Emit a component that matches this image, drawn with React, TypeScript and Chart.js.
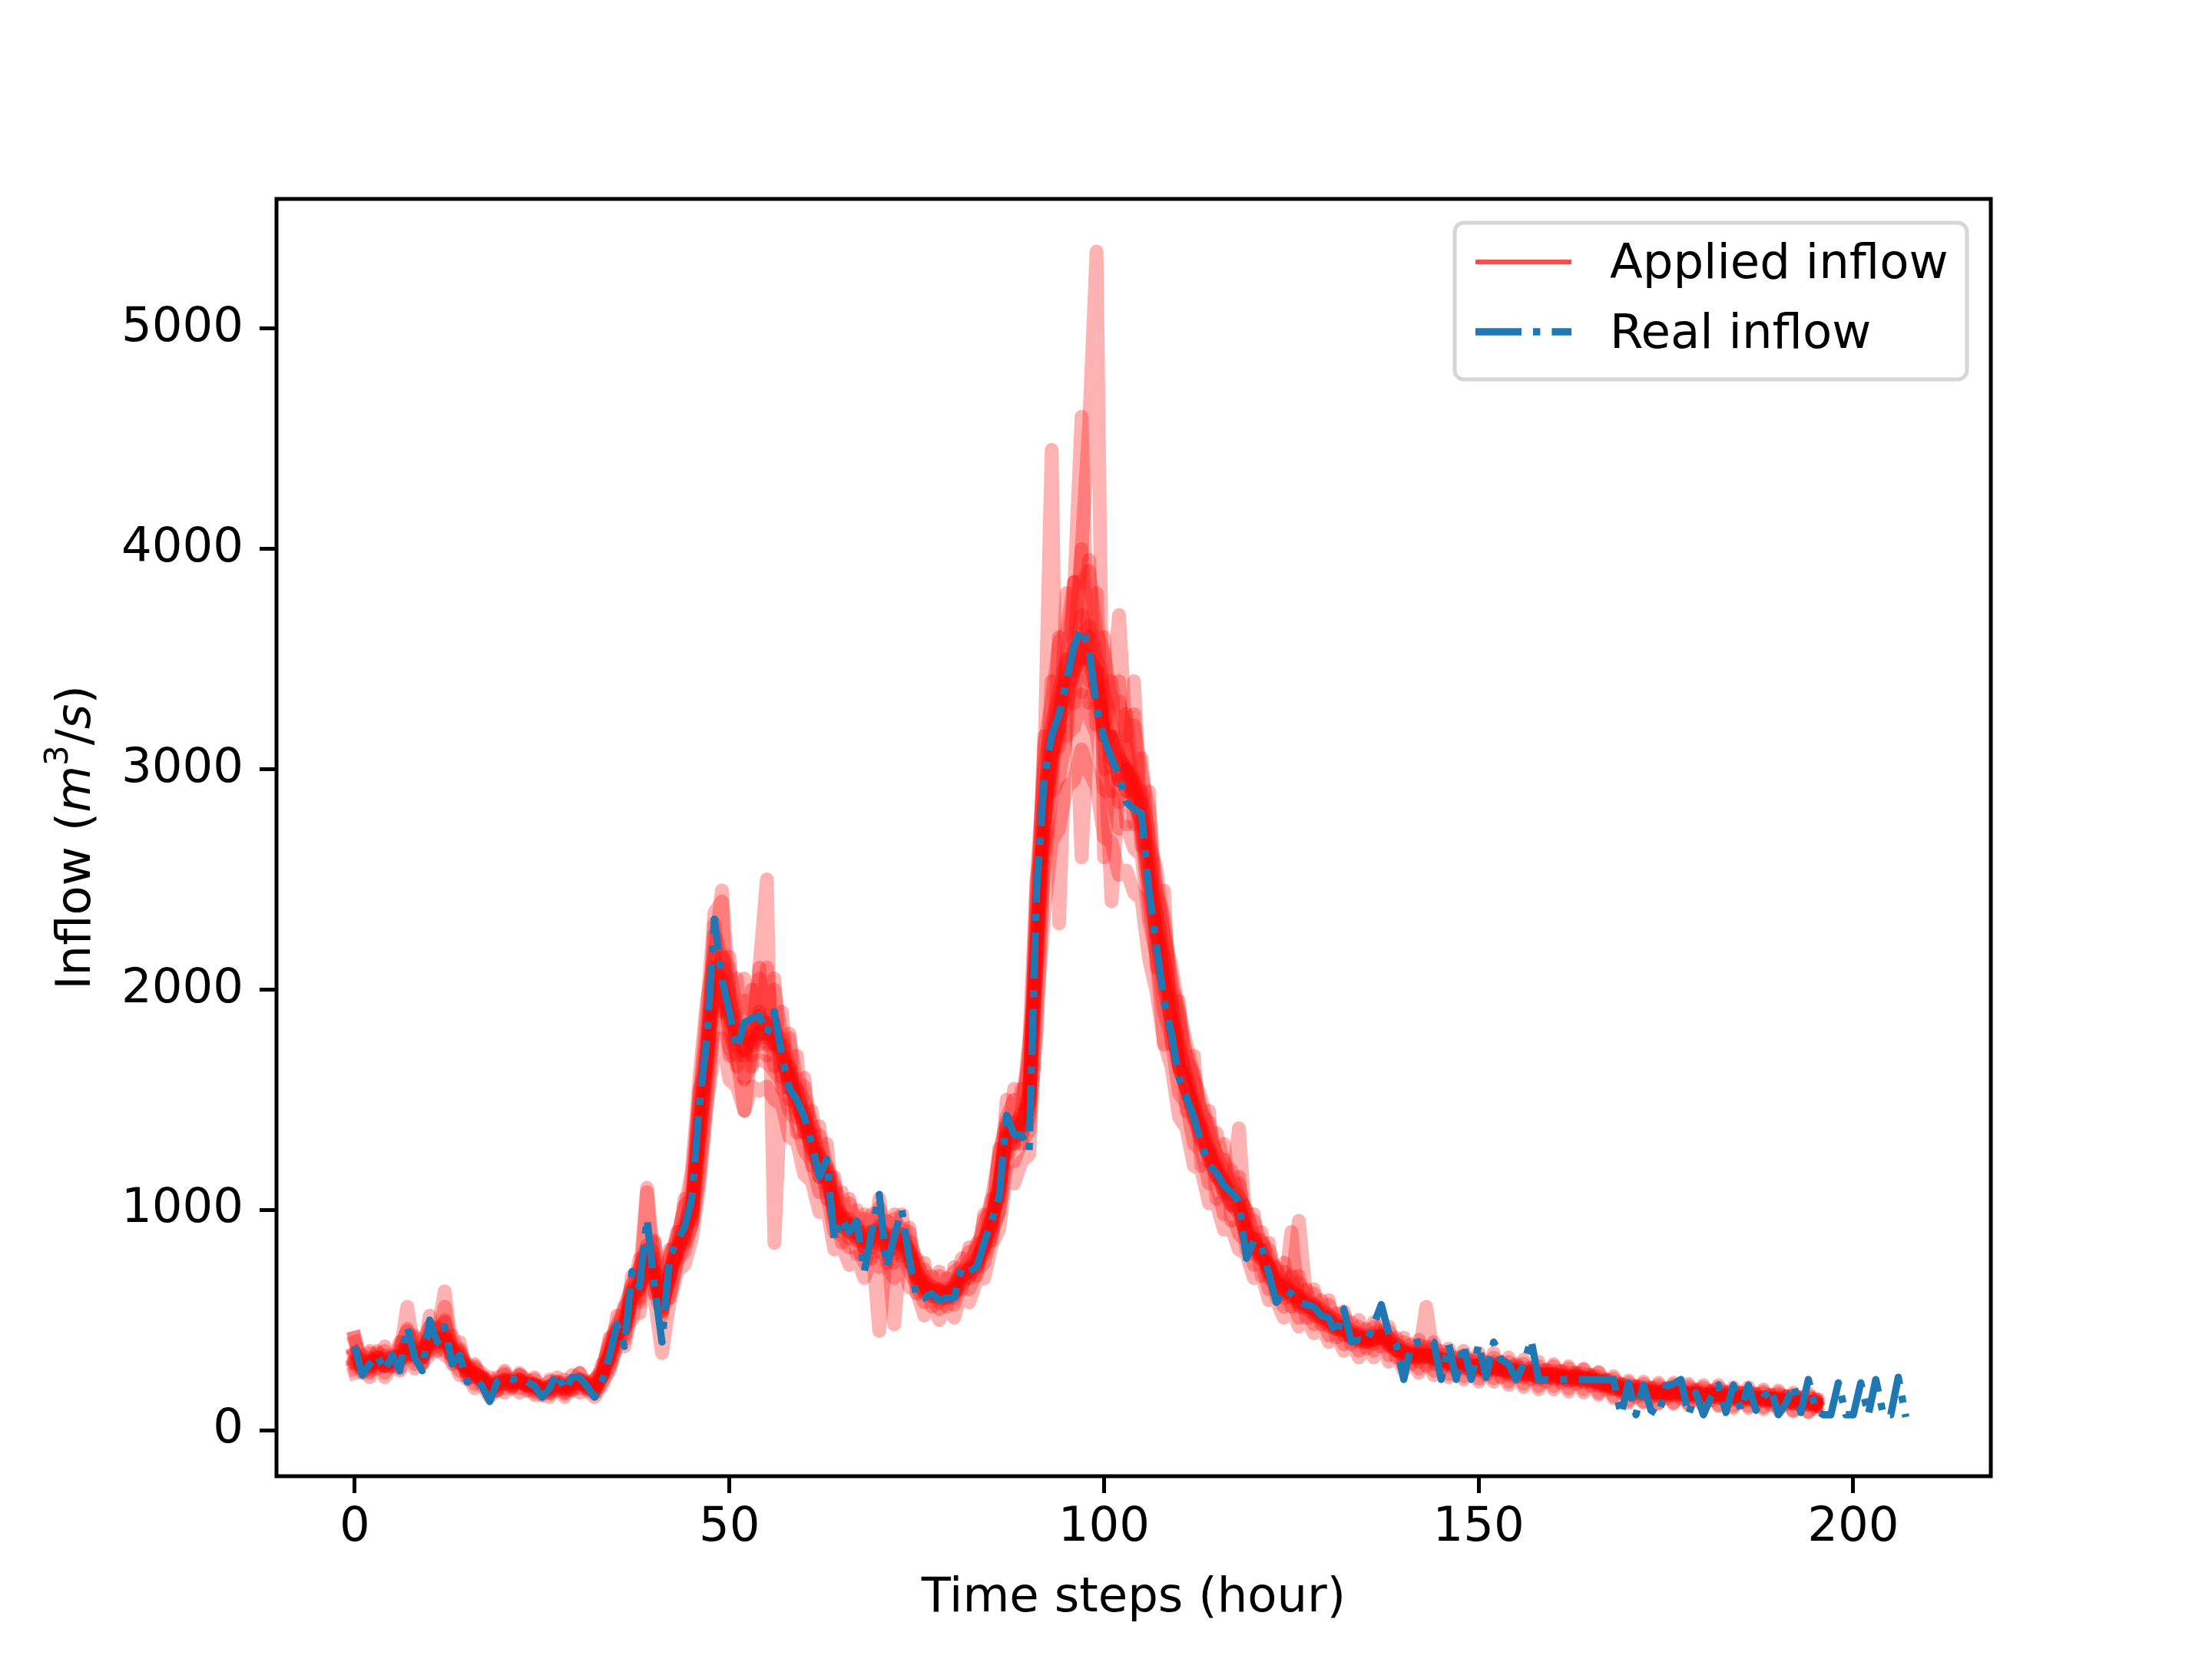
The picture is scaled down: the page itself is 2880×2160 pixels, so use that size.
import { useEffect, useRef } from "react";
import { Chart, registerables } from "chart.js";

Chart.register(...registerables);

const FONT = '"DejaVu Sans"';
const FS = 62.5;

const xTicks = [0, 50, 100, 150, 200];
const yTicks = [0, 1000, 2000, 3000, 4000, 5000];
const X_MIN = -10.45;
const X_MAX = 218.35;
const Y_MIN = -209;
const Y_MAX = 5589;

// observed inflow, one value per hour
const realInflow = [
  380, 250, 300, 340, 270, 340, 270, 470, 330, 270,
  500, 400, 470, 300, 340, 220, 240, 200, 130, 220,
  240, 230, 240, 220, 200, 150, 190, 260, 180, 240,
  240, 200, 150, 220, 340, 480, 380, 720, 650, 960,
  650, 400, 780, 860, 920, 1050, 1480, 1780, 2320, 2050,
  1900, 1730, 1850, 1870, 1880, 1800, 1900, 1700, 1550, 1500,
  1420, 1300, 1150, 1230, 860, 960, 900, 950, 720, 900,
  1070, 740, 880, 1000, 780, 600, 600, 620, 590, 600,
  600, 740, 720, 740, 850, 950, 1060, 1430, 1340, 1340,
  1270, 2450, 2950, 3150, 3250, 3400, 3560, 3640, 3550, 3280,
  3140, 3050, 2970, 2850, 2820, 2800, 2450, 2200, 1950, 1800,
  1600, 1510, 1420, 1300, 1200, 1170, 1110, 1080, 1040, 780,
  860, 840, 710, 580, 640, 620, 580, 570, 560, 520,
  510, 430, 550, 400, 410, 400, 480, 570, 440, 390,
  230, 390, 400, 410, 400, 230, 390, 230, 390, 230,
  390, 240, 400, 320, 300, 230, 300, 410, 230, 230,
  230, 230, 230, 230, 230, 230, 230, 230, 230, 70,
  215, 70, 205, 90, 70, 200, 210, 230, 70, 170,
  70, 150, 205, 80, 205, 90, 205, 90, 150, 190,
  70, 120, 205, 80, 230, 90, 70, 70, 215, 70,
  70, 215, 70, 230, 70, 70, 240, 60
];

// applied (ensemble) inflows
const applied1 = [
  400, 300, 350, 320, 360, 330, 380, 450, 350, 400,
  470, 420, 490, 360, 370, 280, 290, 240, 220, 220,
  260, 220, 250, 220, 230, 190, 220, 220, 210, 220,
  260, 210, 230, 270, 390, 470, 530, 660, 730, 840,
  800, 580, 800, 860, 1020, 1050, 1500, 1800, 2250, 2150,
  2100, 1900, 1950, 1900, 2050, 1900, 2000, 1780, 1780, 1580,
  1560, 1360, 1340, 1200, 1120, 990, 1030, 940, 960, 920,
  1010, 890, 960, 910, 900, 730, 730, 650, 700, 650,
  720, 740, 810, 800, 960, 990, 1240, 1420, 1500, 1480,
  1680, 2330, 3100, 3300, 3580, 3620, 3850, 3850, 3900, 3620,
  3530, 3300, 3310, 3150, 3200, 2980, 2820, 2440, 2330, 2010,
  1900, 1680, 1620, 1430, 1400, 1240, 1230, 1100, 1120, 950,
  950, 840, 820, 690, 720, 650, 670, 600, 620, 540,
  570, 490, 520, 450, 470, 420, 470, 440, 450, 390,
  400, 360, 390, 360, 380, 340, 350, 310, 340, 300,
  330, 290, 330, 290, 310, 280, 300, 270, 290, 260,
  290, 255, 280, 250, 275, 240, 260, 215, 235, 195,
  215, 185, 210, 175, 205, 175, 205, 175, 200, 170,
  195, 165, 195, 160, 180, 150, 180, 145, 175, 140,
  170, 140, 160, 130, 155, 120
];
const applied2 = [
  280, 290, 260, 310, 260, 310, 280, 370, 300, 330,
  360, 400, 360, 340, 270, 270, 210, 230, 160, 200,
  190, 210, 190, 200, 170, 175, 165, 200, 165, 200,
  190, 195, 165, 240, 290, 420, 410, 590, 580, 760,
  620, 540, 620, 770, 810, 940, 1220, 1580, 1870, 1910,
  1730, 1670, 1590, 1670, 1680, 1670, 1630, 1580, 1450, 1400,
  1270, 1220, 1080, 1080, 900, 890, 830, 850, 760, 830,
  810, 800, 760, 820, 720, 660, 580, 600, 550, 590,
  570, 660, 640, 720, 760, 890, 990, 1260, 1220, 1310,
  1360, 2050, 2550, 2880, 2960, 3160, 3190, 3340, 3240, 3160,
  2910, 2880, 2730, 2740, 2640, 2610, 2320, 2150, 1900, 1780,
  1530, 1480, 1300, 1270, 1120, 1120, 980, 1000, 890, 860,
  750, 770, 640, 640, 560, 600, 510, 550, 480, 510,
  430, 460, 390, 430, 360, 410, 360, 430, 340, 370,
  290, 340, 280, 340, 270, 320, 255, 305, 245, 295,
  235, 290, 235, 290, 220, 280, 210, 270, 200, 260,
  200, 255, 190, 250, 185, 240, 170, 225, 155, 205,
  135, 195, 130, 185, 125, 185, 125, 185, 120, 180,
  115, 175, 115, 170, 110, 170, 110, 165, 105, 160,
  100, 155, 90, 150, 85, 140
];
const applied3 = [
  420, 300, 280, 360, 310, 300, 360, 460, 330, 300,
  470, 380, 560, 330, 360, 250, 280, 260, 170, 240,
  250, 200, 250, 230, 180, 200, 170, 240, 170, 250,
  230, 220, 170, 300, 320, 520, 430, 700, 600, 1080,
  620, 640, 680, 900, 850, 1150, 1500, 1900, 2350, 2400,
  1700, 2050, 1600, 2000, 1750, 2100, 1650, 1900, 1500, 1700,
  1350, 1450, 1150, 1300, 950, 1080, 870, 1000, 820, 980,
  840, 950, 800, 980, 760, 780, 620, 700, 580, 690,
  600, 780, 690, 850, 820, 1050, 1050, 1500, 1300, 1550,
  1450, 2500, 2700, 3400, 3100, 3800, 3300, 4000, 3400, 3800,
  3000, 3400, 2850, 3250, 2750, 3050, 2650, 2550, 2250, 2100,
  1900, 1750, 1600, 1500, 1350, 1350, 1200, 1180, 1050, 1000,
  800, 900, 690, 740, 600, 700, 560, 640, 520, 590,
  470, 530, 430, 490, 400, 460, 390, 480, 380, 420,
  320, 390, 310, 380, 300, 360, 290, 330, 280, 320,
  270, 310, 270, 310, 250, 300, 240, 285, 230, 275,
  230, 270, 220, 260, 215, 250, 200, 230, 185, 210,
  165, 200, 160, 195, 155, 190, 155, 185, 150, 180,
  145, 175, 145, 170, 140, 165, 140, 160, 130, 155,
  130, 150, 120, 145, 115, 130
];
const applied4 = [
  260, 270, 240, 300, 240, 290, 270, 340, 280, 310,
  340, 370, 340, 320, 250, 250, 190, 210, 150, 190,
  170, 200, 170, 190, 160, 160, 150, 190, 150, 190,
  170, 180, 150, 220, 270, 390, 380, 550, 530, 700,
  600, 350, 580, 720, 750, 870, 1120, 1480, 1720, 1780,
  1590, 1560, 1450, 1560, 1540, 1560, 1500, 1480, 1330, 1310,
  1160, 1130, 990, 1010, 820, 840, 750, 790, 690, 780,
  740, 750, 690, 770, 650, 630, 520, 570, 500, 560,
  510, 630, 580, 680, 690, 840, 910, 1180, 1120, 1220,
  1250, 1900, 2350, 2670, 2730, 2920, 2950, 3090, 2990, 2920,
  2690, 2670, 2520, 2540, 2440, 2410, 2140, 1990, 1760, 1650,
  1420, 1370, 1200, 1180, 1030, 1030, 910, 920, 820, 800,
  690, 710, 590, 590, 510, 560, 470, 510, 440, 470,
  400, 430, 360, 400, 330, 380, 330, 400, 310, 340,
  270, 320, 260, 320, 250, 300, 240, 285, 230, 275,
  220, 270, 220, 270, 205, 260, 195, 250, 185, 240,
  185, 235, 175, 230, 170, 225, 160, 210, 145, 190,
  125, 180, 125, 175, 120, 175, 120, 175, 115, 170,
  110, 165, 110, 160, 100, 155, 100, 150, 95, 145,
  90, 140, 85, 140, 80, 130
];
const applied5 = [
  350, 280, 330, 300, 340, 310, 340, 400, 360, 380,
  400, 460, 400, 380, 300, 290, 240, 240, 200, 200,
  230, 210, 230, 200, 210, 170, 200, 200, 200, 200,
  230, 190, 220, 280, 400, 480, 560, 660, 740, 820,
  760, 600, 780, 880, 1000, 1180, 1600, 1950, 2150, 1950,
  1850, 1700, 1800, 1700, 1900, 1750, 1850, 1600, 1650, 1420,
  1450, 1250, 1250, 1080, 1050, 900, 960, 860, 900, 850,
  930, 820, 890, 840, 820, 680, 670, 610, 640, 600,
  660, 720, 760, 820, 920, 1050, 1250, 1400, 1300, 1450,
  1750, 2500, 3000, 3200, 3350, 3500, 3450, 3700, 3500, 3450,
  3150, 3150, 2950, 3000, 2850, 2750, 2450, 2250, 2000, 1850,
  1650, 1550, 1420, 1300, 1260, 1150, 1120, 1020, 1010, 880,
  870, 780, 750, 640, 660, 600, 610, 560, 560, 510,
  510, 460, 470, 420, 430, 400, 430, 420, 410, 360,
  360, 330, 350, 330, 340, 310, 320, 290, 310, 280,
  300, 270, 300, 270, 280, 260, 270, 250, 260, 240,
  260, 235, 250, 230, 245, 220, 230, 200, 210, 180,
  190, 170, 185, 165, 180, 160, 180, 160, 175, 155,
  170, 150, 170, 150, 160, 140, 160, 140, 150, 135,
  150, 130, 140, 125, 135, 115
];
const applied6 = [
  320, 300, 290, 330, 290, 330, 320, 370, 340, 350,
  410, 420, 410, 360, 310, 280, 260, 220, 195, 215,
  210, 225, 215, 215, 195, 185, 185, 215, 185, 215,
  215, 205, 185, 245, 330, 450, 460, 610, 660, 780,
  720, 540, 720, 800, 920, 980, 1320, 1650, 2000, 2100,
  1950, 1750, 1700, 1850, 1800, 1850, 1750, 1750, 1550, 1550,
  1350, 1350, 1150, 1200, 970, 980, 900, 930, 830, 900,
  880, 870, 480, 890, 780, 720, 640, 640, 610, 630,
  630, 690, 730, 750, 860, 940, 1120, 1330, 1370, 1380,
  1520, 2400, 3000, 4450, 2300, 3300, 3550, 3500, 3600, 3350,
  3250, 3050, 3050, 2900, 2950, 2750, 2600, 2250, 2150, 1850,
  1750, 1550, 1480, 1320, 1280, 1150, 1130, 1020, 1030, 880,
  870, 780, 740, 650, 650, 610, 600, 560, 560, 510,
  510, 460, 470, 420, 430, 400, 425, 420, 405, 365,
  355, 335, 345, 335, 335, 315, 315, 295, 305, 285,
  295, 275, 295, 275, 275, 265, 265, 255, 255, 245,
  255, 240, 245, 235, 240, 225, 225, 205, 205, 185,
  185, 175, 180, 170, 175, 165, 175, 165, 170, 160,
  165, 155, 165, 150, 155, 145, 155, 140, 150, 135,
  145, 130, 135, 125, 130, 115
];
const applied7 = [
  340, 280, 310, 310, 310, 310, 340, 560, 340, 330,
  430, 400, 430, 340, 330, 260, 250, 230, 180, 210,
  225, 215, 225, 205, 205, 175, 195, 205, 195, 205,
  225, 195, 195, 245, 350, 430, 480, 600, 640, 820,
  680, 570, 690, 830, 880, 1020, 1380, 1720, 2100, 2000,
  1880, 1820, 1720, 1780, 2100, 2500, 850, 1650, 1620, 1450,
  1420, 1280, 1220, 1130, 1020, 940, 930, 890, 860, 870,
  910, 840, 860, 860, 810, 690, 660, 620, 630, 610,
  650, 700, 730, 770, 840, 960, 1080, 1370, 1330, 1420,
  1480, 2150, 2750, 3050, 3200, 3500, 3800, 4600, 3300, 3450,
  3150, 3150, 2950, 3000, 2850, 2850, 2500, 2350, 2050, 1950,
  1650, 1600, 1420, 1380, 1220, 1200, 1080, 1070, 1370, 880,
  830, 820, 720, 670, 630, 630, 580, 580, 540, 530,
  490, 480, 450, 440, 410, 420, 410, 440, 390, 380,
  340, 350, 330, 350, 320, 330, 300, 310, 290, 300,
  280, 290, 280, 290, 260, 280, 250, 270, 240, 260,
  240, 250, 230, 250, 225, 240, 210, 220, 190, 200,
  170, 190, 170, 180, 165, 180, 165, 175, 160, 170,
  155, 165, 155, 160, 145, 155, 145, 150, 140, 145,
  135, 140, 125, 135, 120, 125
];
const applied8 = [
  310, 320, 290, 350, 290, 340, 310, 400, 360, 350,
  440, 430, 630, 360, 350, 280, 260, 240, 200, 220,
  230, 230, 230, 220, 210, 190, 200, 220, 200, 220,
  230, 210, 200, 260, 360, 460, 490, 640, 680, 1100,
  740, 580, 720, 840, 940, 1040, 1400, 1760, 2150, 2450,
  1950, 1830, 1780, 1830, 1880, 1830, 1830, 1730, 1630, 1530,
  1430, 1330, 1230, 1180, 1030, 970, 940, 920, 870, 900,
  920, 870, 870, 890, 820, 720, 670, 650, 640, 640,
  660, 720, 740, 780, 870, 970, 1120, 1380, 1380, 1430,
  1530, 2250, 2850, 3150, 3300, 3450, 3550, 4000, 4560, 5350,
  2600, 3150, 3050, 3000, 2950, 2850, 2600, 2350, 2150, 1950,
  1750, 1620, 1480, 1380, 1280, 1210, 1130, 1080, 1030, 920,
  870, 820, 750, 680, 660, 640, 950, 590, 570, 540,
  520, 490, 480, 450, 440, 430, 440, 450, 420, 390,
  370, 360, 360, 360, 350, 340, 330, 320, 320, 310,
  310, 300, 310, 300, 290, 290, 280, 280, 270, 270,
  270, 265, 260, 260, 255, 250, 240, 230, 220, 210,
  200, 200, 195, 190, 190, 190, 190, 190, 185, 185,
  180, 180, 180, 175, 170, 170, 170, 165, 165, 160,
  160, 155, 150, 150, 145, 140
];
const applied9 = [
  350, 300, 310, 330, 320, 330, 340, 390, 350, 345,
  420, 415, 425, 355, 330, 275, 255, 235, 190, 215,
  225, 220, 220, 210, 205, 185, 195, 215, 190, 215,
  225, 205, 190, 255, 350, 450, 470, 630, 650, 810,
  700, 560, 700, 820, 900, 1000, 1350, 1700, 2050, 2050,
  1800, 1700, 1450, 1750, 1800, 1800, 1800, 1700, 1600, 1500,
  1400, 1300, 1200, 1150, 1000, 950, 920, 900, 850, 880,
  900, 850, 850, 870, 800, 700, 650, 630, 620, 620,
  640, 700, 720, 760, 850, 950, 1100, 1350, 1350, 1400,
  1500, 2200, 2800, 3100, 3250, 3400, 3500, 2600, 3300, 3400,
  3200, 3300, 3700, 3100, 2900, 2700, 2400, 2150, 1750, 1850,
  1650, 1550, 1450, 1350, 1250, 1180, 1100, 1050, 1000, 900,
  850, 800, 730, 660, 640, 620, 590, 570, 550, 520,
  500, 470, 460, 430, 420, 410, 420, 430, 400, 370,
  350, 340, 340, 340, 330, 320, 310, 300, 300, 290,
  290, 280, 290, 280, 270, 270, 260, 260, 250, 250,
  250, 245, 240, 240, 235, 230, 220, 210, 200, 190,
  180, 180, 175, 170, 170, 170, 170, 170, 165, 165,
  160, 160, 160, 155, 150, 150, 150, 145, 145, 140,
  140, 135, 130, 130, 125, 120
];
const applied10 = [
  310, 280, 300, 310, 290, 310, 320, 360, 340, 330,
  400, 400, 410, 340, 310, 265, 245, 225, 185, 205,
  215, 215, 215, 205, 195, 175, 185, 205, 185, 205,
  215, 195, 185, 240, 330, 430, 460, 610, 640, 780,
  690, 550, 690, 800, 880, 980, 1330, 1680, 2000, 2000,
  1880, 1780, 1730, 1780, 1830, 1780, 1780, 1680, 1580, 1480,
  1380, 1280, 1180, 1130, 980, 930, 900, 880, 830, 860,
  450, 830, 830, 850, 780, 680, 630, 610, 600, 600,
  620, 680, 700, 740, 830, 930, 1080, 1330, 1330, 1380,
  1480, 2150, 2750, 3050, 3200, 3350, 3450, 3550, 3500, 3350,
  3150, 2400, 2950, 2900, 3400, 2750, 2500, 2250, 2050, 1850,
  1650, 1550, 1420, 1330, 1230, 1160, 1080, 1030, 980, 880,
  830, 780, 710, 640, 620, 900, 570, 550, 530, 500,
  480, 460, 450, 420, 410, 400, 410, 420, 390, 360,
  340, 330, 330, 560, 320, 310, 300, 290, 290, 280,
  280, 270, 280, 270, 260, 260, 250, 250, 240, 240,
  240, 235, 230, 230, 225, 220, 210, 200, 190, 180,
  170, 170, 165, 160, 160, 160, 160, 160, 155, 155,
  150, 150, 150, 145, 140, 140, 140, 135, 135, 130,
  130, 125, 120, 120, 115, 110
];
const applied11 = [
  420, 260, 360, 280, 380, 290, 400, 330, 420, 300,
  520, 360, 500, 300, 400, 230, 300, 200, 240, 180,
  270, 190, 260, 180, 240, 160, 230, 180, 230, 180,
  260, 180, 230, 250, 420, 430, 560, 600, 780, 760,
  860, 520, 820, 780, 1050, 950, 1550, 1650, 2300, 1900,
  2150, 1650, 2050, 1650, 2100, 1700, 2050, 1550, 1800, 1350,
  1600, 1200, 1380, 1050, 1150, 850, 1050, 800, 980, 780,
  1050, 760, 980, 790, 920, 620, 760, 560, 720, 560,
  740, 640, 830, 700, 980, 860, 1280, 1250, 1550, 1300,
  1750, 2100, 3150, 2900, 3600, 3150, 3850, 3350, 3950, 3200,
  3600, 2900, 3400, 2750, 3250, 2650, 2900, 2100, 2450, 1750,
  1950, 1450, 1700, 1200, 1450, 1050, 1300, 950, 1150, 820,
  980, 700, 850, 600, 760, 560, 700, 510, 640, 480,
  590, 420, 540, 390, 500, 370, 490, 380, 470, 330,
  420, 300, 410, 290, 400, 280, 370, 270, 360, 260,
  350, 250, 350, 240, 330, 240, 320, 230, 310, 220,
  300, 215, 290, 210, 280, 200, 265, 185, 245, 170,
  225, 150, 220, 145, 215, 145, 215, 145, 210, 140,
  205, 135, 205, 130, 195, 125, 195, 120, 185, 115,
  180, 115, 170, 110, 165, 105
];
const applied12 = [
  300, 340, 270, 330, 300, 290, 330, 340, 430, 330,
  380, 470, 390, 430, 330, 300, 260, 240, 210, 180,
  220, 200, 230, 200, 205, 190, 175, 200, 200, 185,
  210, 215, 185, 200, 290, 380, 470, 500, 680, 700,
  850, 630, 600, 760, 850, 930, 1150, 1500, 1850, 2150,
  2000, 1850, 1720, 1750, 1800, 1850, 1750, 1780, 1650, 1550,
  1500, 1380, 1250, 1180, 1100, 950, 930, 900, 880, 830,
  900, 890, 820, 860, 860, 760, 690, 650, 630, 620,
  620, 660, 730, 740, 800, 900, 1000, 1200, 1400, 1350,
  1420, 1800, 2600, 3000, 3200, 3300, 3450, 3500, 3650, 3500,
  3350, 3200, 3050, 3000, 2900, 2900, 2700, 2450, 2250, 2050,
  1850, 1700, 1580, 1450, 1350, 1250, 1180, 1100, 1060, 1000,
  880, 860, 780, 720, 670, 640, 610, 590, 570, 550,
  520, 500, 470, 450, 430, 420, 410, 430, 420, 390,
  360, 350, 340, 340, 340, 320, 320, 300, 300, 290,
  290, 280, 280, 280, 270, 270, 260, 260, 250, 250,
  250, 245, 240, 240, 235, 230, 225, 215, 205, 195,
  185, 180, 180, 175, 170, 170, 170, 170, 165, 165,
  160, 160, 160, 155, 150, 150, 150, 145, 145, 140,
  140, 135, 130, 130, 125, 120
];

const appliedMembers = [
  applied1, applied2, applied3, applied4, applied5, applied6,
  applied7, applied8, applied9, applied10, applied11, applied12
];

const toPoints = (arr: number[]) => arr.map((y, x) => ({ x, y }));

const decorPlugin = {
  id: "decor",
  afterDatasetsDraw(chart: any) {
    const { ctx, chartArea: a } = chart;
    ctx.save();
    ctx.strokeStyle = "#000";
    ctx.lineWidth = 5;
    ctx.strokeRect(a.left, a.top, a.right - a.left, a.bottom - a.top);
    ctx.restore();
  },
  afterDraw(chart: any) {
    const { ctx, chartArea: a } = chart;
    const regular = `${FS}px ${FONT}`;
    const italic = `italic ${FS}px ${FONT}`;

    // x axis title
    ctx.save();
    ctx.fillStyle = "#000";
    ctx.font = regular;
    ctx.textAlign = "center";
    ctx.textBaseline = "alphabetic";
    ctx.fillText("Time steps (hour)", (a.left + a.right) / 2, 2098);
    ctx.restore();

    // y axis title with math parts
    const parts = [
      { t: "Inflow (", f: regular, dy: 0 },
      { t: "m", f: italic, dy: 0 },
      { t: "3", f: `42px ${FONT}`, dy: -29 },
      { t: "/", f: regular, dy: 0 },
      { t: "s", f: italic, dy: 0 },
      { t: ")", f: regular, dy: 0 }
    ];
    ctx.save();
    ctx.fillStyle = "#000";
    ctx.translate(117, (a.top + a.bottom) / 2);
    ctx.rotate(-Math.PI / 2);
    ctx.textAlign = "left";
    ctx.textBaseline = "alphabetic";
    let total = 0;
    for (const p of parts) {
      ctx.font = p.f;
      total += ctx.measureText(p.t).width;
    }
    let x = -total / 2;
    for (const p of parts) {
      ctx.font = p.f;
      ctx.fillText(p.t, x, p.dy);
      x += ctx.measureText(p.t).width;
    }
    ctx.restore();

    // legend
    const L = 1894, T = 290, R = 2561, B = 494;
    ctx.save();
    ctx.beginPath();
    ctx.roundRect(L, T, R - L, B - T, 12);
    ctx.fillStyle = "rgba(255,255,255,0.8)";
    ctx.fill();
    ctx.lineWidth = 5;
    ctx.strokeStyle = "rgba(204,204,204,0.8)";
    ctx.stroke();

    ctx.beginPath();
    ctx.moveTo(1921, 341);
    ctx.lineTo(2046, 341);
    ctx.lineWidth = 6.25;
    ctx.strokeStyle = "rgba(255,0,0,0.7)";
    ctx.lineCap = "butt";
    ctx.stroke();

    ctx.beginPath();
    ctx.setLineDash([60, 15, 9.4, 15]);
    ctx.moveTo(1921, 432);
    ctx.lineTo(2046, 432);
    ctx.lineWidth = 9.4;
    ctx.strokeStyle = "#1f77b4";
    ctx.stroke();
    ctx.setLineDash([]);

    ctx.fillStyle = "#000";
    ctx.font = regular;
    ctx.textAlign = "left";
    ctx.textBaseline = "alphabetic";
    ctx.fillText("Applied inflow", 2096, 362);
    ctx.fillText("Real inflow", 2096, 453);
    ctx.restore();
  }
};

export default function App() {
  const canvasRef = useRef<HTMLCanvasElement>(null);
  const chartRef = useRef<Chart | null>(null);

  useEffect(() => {
    if (!canvasRef.current) return;
    if (chartRef.current) chartRef.current.destroy();

    const datasets: any[] = [
      {
        label: "Real inflow",
        data: toPoints(realInflow),
        borderColor: "#1f77b4",
        borderWidth: 9.4,
        borderDash: [60, 15, 9.4, 15],
        borderCapStyle: "butt",
        borderJoinStyle: "round",
        pointRadius: 0,
        fill: false,
        tension: 0,
        order: 0
      },
      ...appliedMembers.map(m => ({
        label: "Applied inflow",
        data: toPoints(m),
        borderColor: "rgba(255,0,0,0.3)",
        borderWidth: 18,
        borderCapStyle: "square",
        borderJoinStyle: "round",
        pointRadius: 0,
        fill: false,
        tension: 0,
        order: 1
      }))
    ];

    const tickFont = { family: FONT, size: FS };

    chartRef.current = new Chart(canvasRef.current, {
      type: "line",
      data: { datasets },
      plugins: [decorPlugin],
      options: {
        animation: false,
        responsive: true,
        maintainAspectRatio: false,
        events: [],
        layout: { padding: { top: 259, right: 288, left: 0, bottom: 0 } },
        plugins: {
          legend: { display: false },
          tooltip: { enabled: false },
          title: { display: false }
        },
        scales: {
          x: {
            type: "linear",
            min: X_MIN,
            max: X_MAX,
            afterBuildTicks: (s: any) => {
              s.ticks = xTicks.map(value => ({ value }));
            },
            afterFit: (s: any) => {
              s.height = 238;
            },
            ticks: {
              autoSkip: false,
              maxRotation: 0,
              minRotation: 0,
              color: "#000",
              padding: 8,
              font: tickFont,
              callback: (v: any) => String(v)
            },
            grid: {
              display: true,
              drawOnChartArea: false,
              drawTicks: true,
              tickLength: 22,
              tickWidth: 5,
              tickColor: "#000"
            },
            border: { display: false }
          },
          y: {
            type: "linear",
            min: Y_MIN,
            max: Y_MAX,
            afterBuildTicks: (s: any) => {
              s.ticks = yTicks.map(value => ({ value }));
            },
            afterFit: (s: any) => {
              s.width = 360;
            },
            ticks: {
              autoSkip: false,
              color: "#000",
              padding: 21,
              font: tickFont,
              callback: (v: any) => String(v)
            },
            grid: {
              display: true,
              drawOnChartArea: false,
              drawTicks: true,
              tickLength: 22,
              tickWidth: 5,
              tickColor: "#000"
            },
            border: { display: false }
          }
        }
      } as any
    });

    return () => {
      if (chartRef.current) {
        chartRef.current.destroy();
        chartRef.current = null;
      }
    };
  }, []);

  return (
    <div style={{ position: "absolute", left: 0, top: 0, width: 2880, height: 2160, background: "#fff" }}>
      <canvas ref={canvasRef} />
    </div>
  );
}
